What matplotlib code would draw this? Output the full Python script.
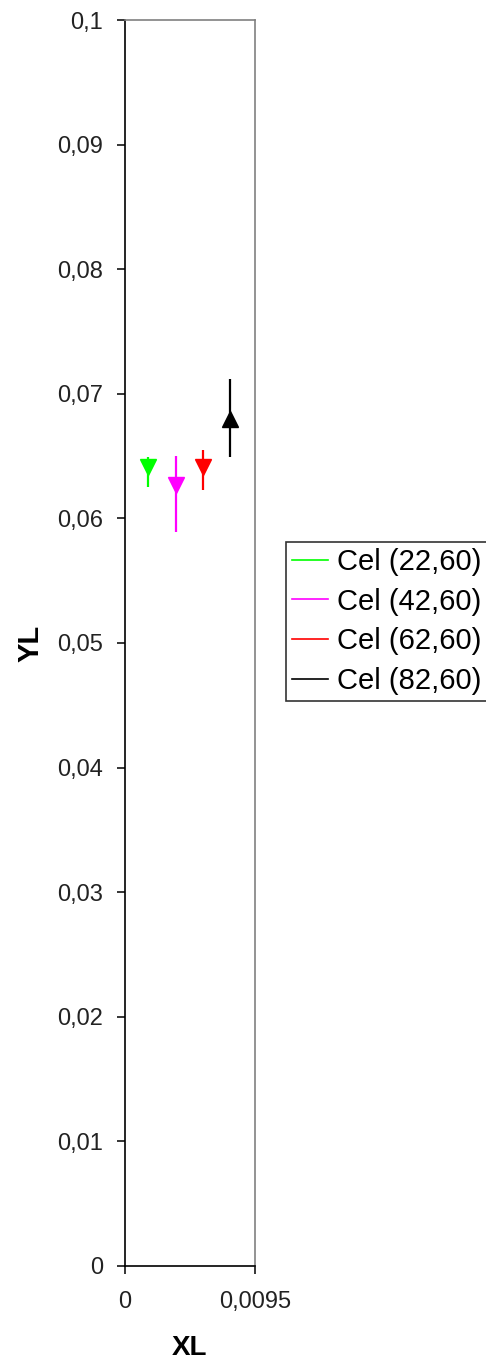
import matplotlib
matplotlib.use("Agg")
import matplotlib.pyplot as plt
from matplotlib.lines import Line2D

plt.rcParams['font.family'] = ['Liberation Sans', 'DejaVu Sans']

# data
labels = ["Cel (22,60)", "Cel (42,60)", "Cel (62,60)", "Cel (82,60)"]
colors = ["#00ff00", "#ff00ff", "#ff0000", "#000000"]
markers = ["v", "v", "v", "^"]
xl = [0.0017, 0.0037, 0.0057, 0.0077]
yl = [0.0641, 0.0627, 0.0641, 0.0680]
err_low = [0.0016, 0.0038, 0.0018, 0.0031]
err_high = [0.0008, 0.0023, 0.0014, 0.0032]

yticks = [0, 0.01, 0.02, 0.03, 0.04, 0.05, 0.06, 0.07, 0.08, 0.09, 0.1]
ytick_labels = ["0", "0,01", "0,02", "0,03", "0,04", "0,05", "0,06",
                "0,07", "0,08", "0,09", "0,1"]
xticks = [0, 0.0095]
xtick_labels = ["0", "0,0095"]

fig = plt.figure(figsize=(4.86, 13.61), dpi=100)
W, H = 486, 1361
ax = fig.add_axes([125 / W, 1 - 1266 / H, 130 / W, 1246 / H])

for i in range(len(xl)):
    ax.errorbar(xl[i], yl[i], yerr=[[err_low[i]], [err_high[i]]],
                fmt=markers[i], color=colors[i], ecolor=colors[i],
                markersize=12, elinewidth=1.6, capsize=0, zorder=3)

ax.set_xlim(0, 0.0095)
ax.set_ylim(0, 0.1)
ax.set_yticks(yticks)
ax.set_yticklabels(ytick_labels)
ax.set_xticks(xticks)
ax.set_xticklabels(xtick_labels)
ax.tick_params(axis='both', direction='out', length=6, width=1.1,
               labelsize=17, labelcolor='#222222')
ax.tick_params(axis='y', pad=10)
ax.tick_params(axis='x', pad=12)

for s in ['left', 'bottom']:
    ax.spines[s].set_color('black')
    ax.spines[s].set_linewidth(1.2)
for s in ['top', 'right']:
    ax.spines[s].set_color('#808080')
    ax.spines[s].set_linewidth(1.2)

ax.set_ylabel("YL", fontsize=21, fontweight='bold')
ax.yaxis.set_label_coords(-0.62, 0.5)
ax.set_xlabel("XL", fontsize=20, fontweight='bold')
ax.xaxis.set_label_coords(0.5, -0.055)

handles = [Line2D([0], [0], color=c, lw=1.2) for c in colors]
leg = fig.legend(handles, labels, loc='upper left',
                 bbox_to_anchor=(286 / W, 1 - 542 / H),
                 fontsize=21, frameon=True, fancybox=False,
                 handlelength=1.25, handletextpad=0.3, labelspacing=0.4,
                 borderpad=0.2, borderaxespad=0)
leg.get_frame().set_edgecolor('black')
leg.get_frame().set_linewidth(1.2)

fig.savefig("out.png", dpi=100)
